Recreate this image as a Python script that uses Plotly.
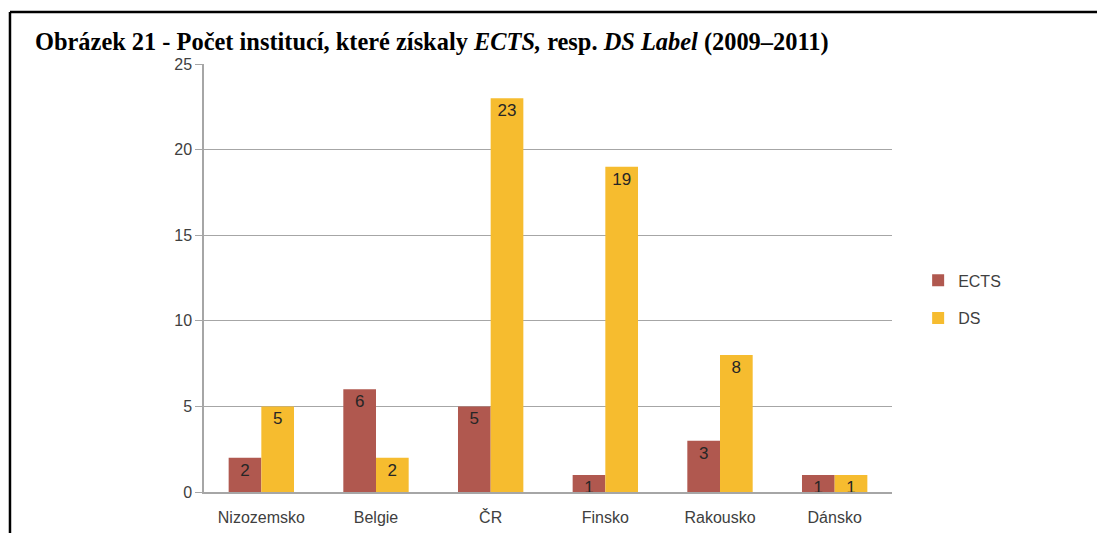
import plotly.graph_objects as go

categories = ["Nizozemsko", "Belgie", "ČR", "Finsko", "Rakousko", "Dánsko"]
ects = [2, 6, 5, 1, 3, 1]
ds = [5, 2, 23, 19, 8, 1]

title_text = ("<b>Obrázek 21 - Počet institucí, které získaly <i>ECTS,</i> "
              "resp. <i>DS Label</i> (2009–2011)</b>")

fig = go.Figure()
for name, vals, color in [("ECTS", ects, "#B0584F"), ("DS", ds, "#F6BC2F")]:
    fig.add_trace(
        go.Bar(
            x=categories,
            y=vals,
            name=name,
            marker=dict(color=color, line=dict(width=0)),
            text=[str(v) for v in vals],
            textposition="inside",
            insidetextanchor="end",
            constraintext="none",
            textangle=0,
            textfont=dict(family="Liberation Sans", size=17, color="#262626"),
            legendgroup=name,
        )
    )

# page body has an 8px margin, so the figure is sized/shifted to compensate
fig.update_layout(
    width=1097,
    height=525,
    margin=dict(l=196, r=213, t=56, b=41),
    paper_bgcolor="white",
    plot_bgcolor="white",
    barmode="group",
    bargap=0.43,
    bargroupgap=0,
    font=dict(family="Liberation Sans", size=16, color="#404040"),
    title=dict(
        text=title_text,
        x=27 / 1097,
        xanchor="left",
        xref="container",
        y=1 - 33 / 525,
        yanchor="middle",
        yref="container",
        font=dict(family="Liberation Serif", size=24.4, color="black"),
    ),
    legend=dict(
        x=1.038,
        xanchor="left",
        y=0.45,
        yanchor="middle",
        tracegroupgap=14,
        font=dict(size=16, color="#404040"),
        bgcolor="rgba(0,0,0,0)",
        itemwidth=30,
    ),
    showlegend=True,
    shapes=[
        # black frame (top and left)
        dict(type="line", xref="paper", yref="paper", x0=-0.282, x1=1.32, y0=1.1215, y1=1.1215,
             line=dict(color="black", width=2.5)),
        dict(type="line", xref="paper", yref="paper", x0=-0.282, x1=-0.282, y0=1.1215, y1=-0.2,
             line=dict(color="black", width=2.5)),
    ],
)

fig.update_xaxes(
    showgrid=False,
    showline=True,
    linecolor="#A6A6A6",
    linewidth=1.5,
    ticks="",
    ticklabelstandoff=10,
    automargin=False,
    tickfont=dict(size=16, color="#404040"),
)

fig.update_yaxes(
    range=[0, 25],
    dtick=5,
    showgrid=True,
    gridcolor="#A6A6A6",
    gridwidth=1.2,
    zeroline=False,
    showline=True,
    linecolor="#A6A6A6",
    linewidth=1.5,
    ticks="outside",
    ticklen=7,
    tickcolor="#A6A6A6",
    automargin=False,
    tickfont=dict(size=16, color="#404040"),
)

fig.write_html("out.html")
